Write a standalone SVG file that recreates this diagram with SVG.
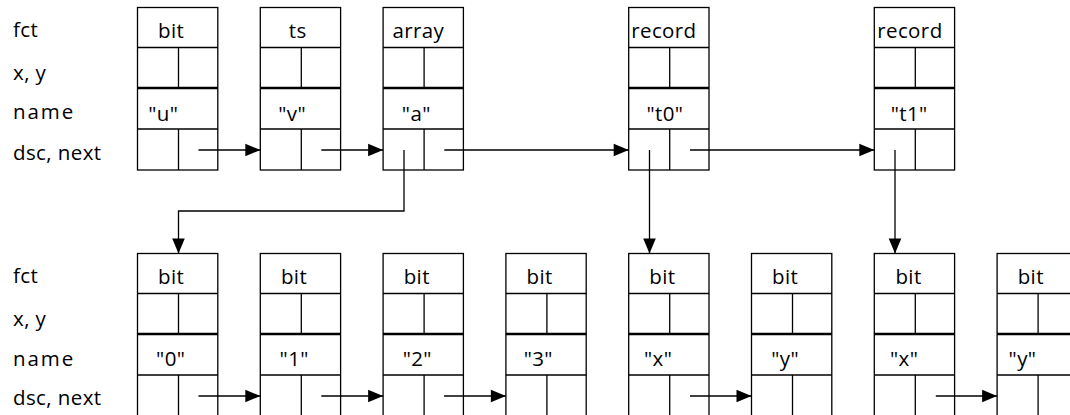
<svg xmlns="http://www.w3.org/2000/svg" xmlns:xlink="http://www.w3.org/1999/xlink" width="1070" height="415" viewBox="0 0 1070 415">
<style>
  .ln { stroke: #000; stroke-width: 1.3; fill: none; }
  .thick { stroke: #000; stroke-width: 2.6; fill: none; }
  .t { font-family: "Open Sans", "DejaVu Sans", sans-serif; font-size: 20.5px; letter-spacing: 0.4px; fill: #000; text-anchor: middle; }
  .lbl { font-family: "Open Sans", "DejaVu Sans", sans-serif; font-size: 20.5px; letter-spacing: 0.4px; fill: #000; }
  .conn { stroke: #000; stroke-width: 1.3; fill: none; marker-end: url(#ah); }
</style>
<defs>
  <marker id="ah" markerUnits="userSpaceOnUse" markerWidth="15" markerHeight="13" refX="15" refY="6.3" orient="auto" overflow="visible">
    <path d="M0,0 L15,6.3 L0,12.6 Z" fill="#000"/>
  </marker>
  <g id="frame">
    <rect class="ln" x="0" y="0" width="80.3" height="162.5"/>
    <line class="ln" x1="0" y1="40" x2="80.3" y2="40"/>
    <line class="thick" x1="0" y1="80.5" x2="80.3" y2="80.5"/>
    <line class="ln" x1="0" y1="121.5" x2="80.3" y2="121.5"/>
    <line class="ln" x1="41" y1="40" x2="41" y2="80.5"/>
    <line class="ln" x1="41" y1="121.5" x2="41" y2="162.5"/>
  </g>
</defs>
<rect x="0" y="0" width="1070" height="415" fill="#fff"/>

<g id="labels-top">
  <text class="lbl" x="13" y="36.5">fct</text>
  <text class="lbl" x="13" y="80">x, y</text>
  <text class="lbl" x="13" y="119" style="letter-spacing:1.9px">name</text>
  <text class="lbl" x="13" y="159.5">dsc, next</text>
</g>
<g id="labels-bottom">
  <text class="lbl" x="13" y="283">fct</text>
  <text class="lbl" x="13" y="326">x, y</text>
  <text class="lbl" x="13" y="365.5" style="letter-spacing:1.9px">name</text>
  <text class="lbl" x="13" y="405">dsc, next</text>
</g>

<g id="node-u" transform="translate(137.5,7.5)">
  <use xlink:href="#frame" href="#frame"/>
  <text class="t" x="33.7" y="30.5">bit</text>
  <text class="t" x="25.7" y="113">"u"</text>
</g>
<g id="node-v" transform="translate(260.3,7.5)">
  <use xlink:href="#frame" href="#frame"/>
  <text class="t" x="37.4" y="30.5">ts</text>
  <text class="t" x="31.9" y="113">"v"</text>
</g>
<g id="node-a" transform="translate(383.1,7.5)">
  <use xlink:href="#frame" href="#frame"/>
  <text class="t" x="35.2" y="30.5">array</text>
  <text class="t" x="33.2" y="113">"a"</text>
</g>
<g id="node-t0" transform="translate(628.7,7.5)">
  <use xlink:href="#frame" href="#frame"/>
  <text class="t" x="35.2" y="30.5">record</text>
  <text class="t" x="36.2" y="113">"t0"</text>
</g>
<g id="node-t1" transform="translate(874.3,7.5)">
  <use xlink:href="#frame" href="#frame"/>
  <text class="t" x="35.6" y="30.5">record</text>
  <text class="t" x="34.9" y="113">"t1"</text>
</g>

<g id="node-0" transform="translate(137.5,253.5)">
  <use xlink:href="#frame" href="#frame"/>
  <text class="t" x="33.7" y="30.5">bit</text>
  <text class="t" x="33.2" y="112.5">"0"</text>
</g>
<g id="node-1" transform="translate(260.3,253.5)">
  <use xlink:href="#frame" href="#frame"/>
  <text class="t" x="33.7" y="30.5">bit</text>
  <text class="t" x="33.9" y="112.5">"1"</text>
</g>
<g id="node-2" transform="translate(383.1,253.5)">
  <use xlink:href="#frame" href="#frame"/>
  <text class="t" x="33.7" y="30.5">bit</text>
  <text class="t" x="34.2" y="112.5">"2"</text>
</g>
<g id="node-3" transform="translate(505.9,253.5)">
  <use xlink:href="#frame" href="#frame"/>
  <text class="t" x="33.7" y="30.5">bit</text>
  <text class="t" x="32.4" y="112.5">"3"</text>
</g>
<g id="node-x0" transform="translate(628.7,253.5)">
  <use xlink:href="#frame" href="#frame"/>
  <text class="t" x="33.7" y="30.5">bit</text>
  <text class="t" x="29.4" y="112.5">"x"</text>
</g>
<g id="node-y0" transform="translate(751.5,253.5)">
  <use xlink:href="#frame" href="#frame"/>
  <text class="t" x="33.7" y="30.5">bit</text>
  <text class="t" x="33.7" y="112.5">"y"</text>
</g>
<g id="node-x1" transform="translate(874.3,253.5)">
  <use xlink:href="#frame" href="#frame"/>
  <text class="t" x="34.2" y="30.5">bit</text>
  <text class="t" x="29.9" y="112.5">"x"</text>
</g>
<g id="node-y1" transform="translate(997.1,253.5)">
  <use xlink:href="#frame" href="#frame"/>
  <text class="t" x="33.7" y="30.5">bit</text>
  <text class="t" x="25.4" y="112.5">"y"</text>
</g>

<g id="connectors">
  <line class="conn" x1="198.5" y1="150" x2="260.3" y2="150"/>
  <line class="conn" x1="321.3" y1="150" x2="383.1" y2="150"/>
  <line class="conn" x1="444.3" y1="150" x2="628.7" y2="150"/>
  <line class="conn" x1="690" y1="150" x2="874.3" y2="150"/>
  <polyline class="conn" points="404,150 404,211 178.5,211 178.5,253.5"/>
  <line class="conn" x1="649.5" y1="150" x2="649.5" y2="253.5"/>
  <line class="conn" x1="895" y1="150" x2="895" y2="253.5"/>
  <line class="conn" x1="198.5" y1="396" x2="260.3" y2="396"/>
  <line class="conn" x1="321.3" y1="396" x2="383.1" y2="396"/>
  <line class="conn" x1="444.1" y1="396" x2="505.9" y2="396"/>
  <line class="conn" x1="690" y1="396" x2="751.5" y2="396"/>
  <line class="conn" x1="935.8" y1="396" x2="997.1" y2="396"/>
</g>
</svg>
